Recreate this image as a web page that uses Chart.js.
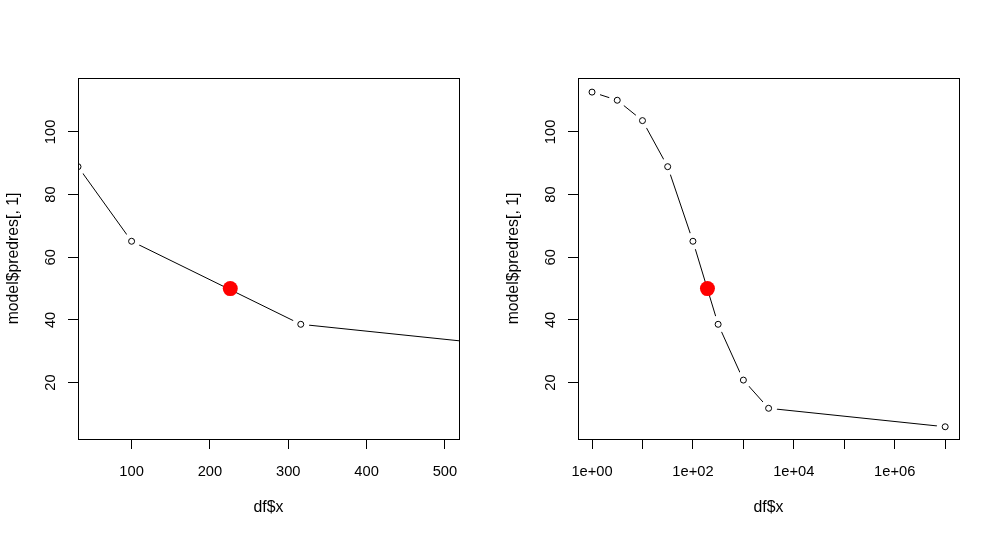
<!DOCTYPE html>
<html><head><meta charset="utf-8">
<script src="https://cdn.jsdelivr.net/npm/chart.js@4/dist/chart.umd.min.js"></script>
<style>
html,body{margin:0;padding:0;background:#fff;width:1000px;height:538px;overflow:hidden}
.p{position:absolute;top:0;width:500px;height:538px}
canvas{display:block}
</style></head><body>
<div class="p" style="left:0"><canvas id="c1" width="500" height="538"></canvas></div>
<div class="p" style="left:500px"><canvas id="c2" width="500" height="538"></canvas></div>
<script>
// ---- data ----
const xValues = [1, 3.16, 10, 31.6, 100, 316, 1000, 3162, 1e7];
const yValues = [112.7, 110.1, 103.6, 88.9, 65.1, 38.6, 20.8, 11.8, 5.9];
const markerLinear = [{x: 226, y: 50}];
const markerLog = [{x: 194, y: 50}];
const yTicks = [20, 40, 60, 80, 100];
const xTicksLinear = [100, 200, 300, 400, 500];
const xTicksLog = [1, 10, 100, 1e3, 1e4, 1e5, 1e6, 1e7];
const xTitle = 'df$x';
const yTitle = 'model$predres[, 1]';

const FAMILY = "'Liberation Sans', Arial, Helvetica, sans-serif";
const TICK_FONT = {family: FAMILY, size: 14.7};
const TITLE_FONT = {family: FAMILY, size: 15.8};
const points = xValues.map((x, i) => ({x, y: yValues[i]}));

const boxPlugin = {
  id: 'box',
  afterDraw(chart) {
    const a = chart.chartArea, c = chart.ctx;
    c.save();
    c.strokeStyle = '#000';
    c.lineWidth = 1;
    c.strokeRect(a.left + 0.5, a.top + 0.5, a.right - a.left, a.bottom - a.top);
    c.restore();
  }
};

function makeChart(id, xType, xMin, xMax, xTickVals, xLabel, marker) {
  return new Chart(document.getElementById(id), {
    type: 'scatter',
    data: {
      datasets: [
        {data: marker, showLine: false, pointRadius: 7.5, pointBackgroundColor: '#ff0000',
         pointBorderColor: '#ff0000', pointBorderWidth: 0, order: 0},
        {data: points, showLine: false, pointRadius: 3, pointBackgroundColor: '#ffffff',
         pointBorderColor: '#000000', pointBorderWidth: 1, order: 1},
        {data: points, showLine: false, pointRadius: 8.5, pointBackgroundColor: '#ffffff',
         pointBorderWidth: 0, order: 2},
        {data: points, showLine: true, borderColor: '#000000', borderWidth: 1,
         pointRadius: 0, order: 3}
      ]
    },
    options: {
      responsive: false,
      animation: false,
      events: [],
      devicePixelRatio: 1,
      layout: {padding: {left: 0, top: 78, right: 41, bottom: 0}},
      plugins: {legend: {display: false}, tooltip: {enabled: false}},
      scales: {
        x: {
          type: xType, min: xMin, max: xMax,
          afterBuildTicks: s => { s.ticks = xTickVals.map(v => ({value: v})); },
          afterFit: s => { s.height = 99; },
          border: {display: false},
          grid: {drawOnChartArea: false, drawTicks: true, tickLength: 10, color: '#000', lineWidth: 1},
          ticks: {autoSkip: false, maxRotation: 0, minRotation: 0, color: '#000', font: TICK_FONT,
                  padding: 14, callback: xLabel},
          title: {display: true, text: xTitle, color: '#000', font: TITLE_FONT, padding: {top: 0, bottom: 20.5}}
        },
        y: {
          type: 'linear', min: 2.0, max: 117.2,
          afterBuildTicks: s => { s.ticks = yTicks.map(v => ({value: v})); },
          afterFit: s => { s.width = 78; },
          border: {display: false},
          grid: {drawOnChartArea: false, drawTicks: true, tickLength: 10, color: '#000', lineWidth: 1},
          ticks: {autoSkip: false, minRotation: 90, maxRotation: 90, crossAlign: 'center',
                  color: '#000', font: TICK_FONT, padding: 5, callback: v => String(v)},
          title: {display: true, text: yTitle, color: '#000', font: TITLE_FONT, padding: {top: 4, bottom: 0}}
        }
      }
    },
    plugins: [boxPlugin]
  });
}

makeChart('c1', 'linear', 31.6, 518, xTicksLinear, v => String(v), markerLinear);
makeChart('c2', 'logarithmic', Math.pow(10, -0.278), Math.pow(10, 7.274), xTicksLog, v => {
  const e = Math.round(Math.log10(v));
  return e % 2 === 0 ? '1e+' + String(e).padStart(2, '0') : '';
}, markerLog);
</script>
</body></html>
